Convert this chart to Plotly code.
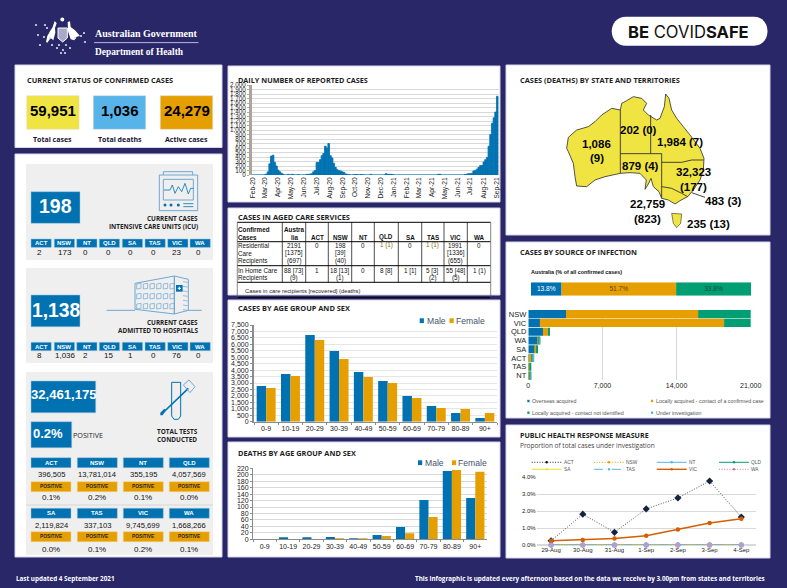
import pandas as pd
import numpy as np
import plotly.graph_objects as go

# ---------- data ----------
TOTALS = ["59,951", "1,036", "24,279"]
TOTAL_LABELS = ["Total cases", "Total deaths", "Active cases"]
STATES = ["ACT", "NSW", "NT", "QLD", "SA", "TAS", "VIC", "WA"]
ICU_TOTAL = "198"
ICU = ["2", "173", "0", "0", "0", "0", "23", "0"]
HOSP_TOTAL = "1,138"
HOSP = ["8", "1,036", "2", "15", "1", "0", "76", "0"]
TESTS_TOTAL = "32,461,175"
TESTS_POS = "0.2%"
TESTS = ["396,505", "13,781,014", "355,195", "4,057,569", "2,119,824", "337,103", "9,745,699", "1,668,266"]
TESTS_PCT = ["0.1%", "0.2%", "0.1%", "0.0%", "0.0%", "0.1%", "0.2%", "0.1%"]

DAILY_START = "2020-02-01"
DAILY_STEP_DAYS = 4
DAILY = [0, 0, 0, 0, 0, 0, 0, 5, 20, 70, 250, 420, 440, 280, 200, 110, 70, 40, 15, 0,
         0, 15, 0, 15, 10, 0, 0, 10, 0, 0, 0, 0, 15, 15, 20, 30, 70, 100, 280, 280,
         340, 430, 480, 640, 600, 700, 430, 380, 260, 170, 120, 100, 90, 70, 60, 25, 15, 10, 0, 0,
         10, 10, 10, 0, 10, 10, 0, 0, 0, 0, 15, 0, 0, 0, 0, 0, 0, 0, 0, 30,
         15, 15, 15, 10, 0, 0, 0, 0, 0, 0, 0, 0, 0, 0, 0, 0, 0, 0, 0, 0,
         0, 0, 0, 0, 0, 0, 0, 0, 0, 0, 15, 15, 0, 0, 0, 0, 0, 0, 0, 0,
         0, 0, 0, 0, 0, 0, 10, 20, 30, 30, 40, 90, 100, 130, 170, 210, 210, 290, 340, 390,
         640, 900, 1150, 1270, 1400, 1750]

AGED_HEAD = ["Confirmed<br>Cases", "Austra<br>lia", "ACT", "NSW", "NT", "QLD", "SA", "TAS", "VIC", "WA"]
AGED_RES = ["Residential<br>Care<br>Recipients", "2191<br>[1375]<br>(697)", "0", "198<br>[39]<br>(40)", "0", "1 (1)", "0", "1 (1)", "1991<br>[1336]<br>(655)", "0"]
AGED_HOME = ["In Home Care<br>Recipients", "88 [73]<br>(9)", "1", "18 [13]<br>(1)", "0", "8 [8]", "1 [1]", "5 [3]<br>(2)", "55 [48]<br>(5)", "1 (1)"]
AGED_NOTE = "Cases in care recipients [recovered] (deaths)"

AGES = ["0-9", "10-19", "20-29", "30-39", "40-49", "50-59", "60-69", "70-79", "80-89", "90+"]
CASES_M = [2770, 3700, 6720, 5480, 3850, 3155, 1990, 1215, 670, 285]
CASES_F = [2610, 3540, 6335, 4860, 3465, 3000, 1835, 1060, 980, 670]
DEATHS_M = [0, 4, 4, 7, 3, 13, 38, 122, 212, 128]
DEATHS_F = [0, 0, 0, 3, 3, 10, 19, 69, 215, 209]

MAP_LABELS = ["1,086", "(9)", "202 (0)", "1,984 (7)", "879 (4)", "32,323", "(177)", "483 (3)", "22,759", "(823)", "235 (13)"]

AUS_SHARE = [13.8, 51.7, 33.8]
SRC_STATES = ["NSW", "VIC", "QLD", "WA", "SA", "ACT", "TAS", "NT"]
SRC_NAMES = ["Overseas acquired", "Locally acquired - contact of a confirmed case",
             "Locally acquired - contact not identified", "Under investigation"]
SRC_OVER = [3560, 1100, 1386, 913, 630, 50, 60, 60]
SRC_LOCAL = [12474, 17388, 470, 60, 100, 310, 120, 110]
SRC_UNID = [16000, 4271, 190, 110, 190, 20, 55, 30]
SRC_INV = [289, 0, 0, 3, 0, 100, 0, 2]

PHR_DATES = ["29-Aug", "30-Aug", "31-Aug", "1-Sep", "2-Sep", "3-Sep", "4-Sep"]
PHR_ACT = [0.25, 1.82, 0.75, 2.13, 2.78, 3.78, 1.65]
PHR_NSW = [0, 0, 0, 0, 0, 0, 0]
PHR_NT = [0, 0, 0, 0, 0, 0, 0]
PHR_QLD = [0, 0, 0, 0, 0, 0, 0]
PHR_SA = [0, 0, 0, 0, 0, 0, 0]
PHR_TAS = [0, 0, 0, 0, 0, 0, 0]
PHR_VIC = [0.25, 0.3, 0.38, 0.55, 0.92, 1.3, 1.55]
PHR_WA = [0, 0, 0, 0, 0, 0, 0]

# ---------- helpers ----------
W, H = 787, 588
NAVY, BLUE, ORANGE, GREEN, SKY, YELLOW, VERM, PINK = "#2A2768", "#0072B2", "#E69F00", "#009E73", "#56B4E9", "#F0E442", "#D55E00", "#CC79A7"
ICON = "#6FA8D2"
DARK = "#1E1E1E"
UI = "Open Sans"
ARIAL = "Liberation Sans"
shapes, notes = [], []

def fx(x): return x / W
def fy(y): return 1 - y / H

def rect(x0, y0, x1, y1, fill, line=None, lw=1, layer="below"):
    shapes.append(dict(type="rect", xref="paper", yref="paper", x0=fx(x0), x1=fx(x1), y0=fy(y0), y1=fy(y1),
                       fillcolor=fill, line=dict(color=line or fill, width=lw if line else 0), layer=layer))

def circle(cx, cy, r, fill, line=None, lw=1, layer="above"):
    shapes.append(dict(type="circle", xref="paper", yref="paper", x0=fx(cx - r), x1=fx(cx + r), y0=fy(cy - r), y1=fy(cy + r),
                       fillcolor=fill, line=dict(color=line or fill, width=lw if line else 0), layer=layer))

def poly(points, fill=None, line=None, lw=1, close=True, dash=None, layer="above", ox=0, oy=0, k=1.0):
    d = "M" + " L".join(f"{fx(ox + p[0] * k):.5f},{fy(oy + p[1] * k):.5f}" for p in points) + (" Z" if close else "")
    ln = dict(color=line or "rgba(0,0,0,0)", width=lw if line else 0)
    if dash: ln["dash"] = dash
    shapes.append(dict(type="path", xref="paper", yref="paper", path=d, fillcolor=fill or "rgba(0,0,0,0)", line=ln, layer=layer))

def text(x, y, s, size, color=DARK, anchor="left", family=ARIAL, bold=False):
    notes.append(dict(xref="paper", yref="paper", x=fx(x), y=fy(y), text=f"<b>{s}</b>" if bold else s, showarrow=False,
                      xanchor=anchor, yanchor="middle", borderpad=0, borderwidth=0, align=anchor,
                      font=dict(size=size, color=color, family=family)))

def dom_x(a, b): return [a / W, b / W]
def dom_y(top, bottom): return [1 - bottom / H, 1 - top / H]

# ---------- page furniture ----------
for p in [(15, 65, 222, 147.5), (15, 154, 222, 557), (228, 66, 500, 202), (228, 208, 500, 295), (228, 300, 500, 437),
          (228, 442, 500, 557), (506, 65, 770, 235), (506, 242, 770, 418), (506, 425, 770, 558)]:
    rect(*p, "#FFFFFF", "#D5D5EA", 1)

# header
text(95, 33.5, "Australian Government", 10, "#FFFFFF", family="Liberation Serif", bold=True)
poly([(94, 42.6), (198.5, 42.6)], line="#B9B8DC", lw=1, close=False)
text(95, 51.7, "Department of Health", 9.4, "#FFFFFF", family="Liberation Serif", bold=True)
poly([(48, 90), (52, 72), (60, 58), (68, 45), (74, 27), (80, 34), (75, 48), (76, 62), (70, 85), (62, 78), (52, 92)], fill="#FFFFFF", ox=30, oy=12, k=1/3)
poly([(113, 30), (120, 28), (122, 45), (135, 55), (150, 72), (140, 74), (133, 85), (122, 82), (114, 58)], fill="#FFFFFF", ox=30, oy=12, k=1/3)
poly([(84, 48), (112, 48), (112, 78), (98, 90), (84, 78)], fill="#A9A8C9", line="#FFFFFF", lw=1, ox=30, oy=12, k=1/3)
circle(62.3, 19.5, 2, "#FFFFFF")
for a, b in [(40, 45), (36, 25), (52, 45), (45, 25), (59, 45), (47, 28), (66, 45), (85, 42), (50, 38), (75, 38), (44, 37), (81, 36), (61, 53), (65, 53), (63, 50), (57, 48), (70, 48), (38, 35), (84, 33)]:
    circle(a, b, 1.1, "#DADAEB")

pill = (f"M{fx(626):.5f},{fy(16.7):.5f} L{fx(754):.5f},{fy(16.7):.5f} "
        f"C{fx(772):.5f},{fy(16.7):.5f} {fx(772):.5f},{fy(45.7):.5f} {fx(754):.5f},{fy(45.7):.5f} "
        f"L{fx(626):.5f},{fy(45.7):.5f} C{fx(607):.5f},{fy(45.7):.5f} {fx(607):.5f},{fy(16.7):.5f} {fx(626):.5f},{fy(16.7):.5f} Z")
shapes.append(dict(type="path", xref="paper", yref="paper", path=pill, fillcolor="#FFFFFF", line=dict(width=0), layer="below"))
text(688.5, 31.7, "<b>BE</b> COVID<b>SAFE</b>", 16.6, "#111111", anchor="center", family="Inter")

# footer
text(16, 578, "Last updated 4 September 2021", 6.3, "#FFFFFF", family=UI, bold=True)
text(765, 578, "This infographic is updated every afternoon based on the data we receive by 3.00pm from states and territories", 6.3, "#FFFFFF", anchor="right", family=UI, bold=True)

# current status
text(26.5, 80, "CURRENT STATUS OF CONFIRMED CASES", 7.4, family=UI, bold=True)
for i, (x0, col) in enumerate([(26.7, YELLOW), (93.3, SKY), (160.3, ORANGE)]):
    rect(x0, 95.7, x0 + 52.4, 129.3, col, "#DADADA", 0.5)
    text(x0 + 26.2, 110.7, TOTALS[i], 15, "#000000", anchor="center", bold=True)
    text(x0 + 26.2, 139, TOTAL_LABELS[i], 7, "#141432", anchor="center", family=UI, bold=True)

# ICU + hospital panels
rect(26, 164, 213, 260, "#EFEFEF")
rect(26, 268, 213, 363, "#EFEFEF")
rect(26, 372, 213, 555, "#EFEFEF")
HX = [31, 54.3, 76.7, 99.3, 122.3, 145, 167.7, 190]
VX = [39.5, 65, 85, 108, 130.5, 153.5, 176, 199]
for (hy, vy, vals) in [(239, 252.3, ICU), (342.3, 355.7, HOSP)]:
    for i, st in enumerate(STATES):
        rect(HX[i], hy, HX[i] + 20.3, hy + 8.4, BLUE, "#9CC4DF", 0.5)
        text(HX[i] + 10.1, hy + 4.2, st, 6, "#FFFFFF", anchor="center", bold=True)
        text(VX[i], vy, vals[i], 8, "#111111", anchor="center")
rect(31, 191.7, 80, 223.3, BLUE, "#9CC4DF", 0.5)
text(55.5, 205.5, ICU_TOTAL, 19.5, "#FFFFFF", anchor="center", bold=True)
rect(31, 295, 80, 326.7, BLUE, "#9CC4DF", 0.5)
text(56, 310, HOSP_TOTAL, 19.3, "#FFFFFF", anchor="center", bold=True)
text(197.7, 218.3, "CURRENT CASES", 6.4, anchor="right", family=UI, bold=True)
text(197.7, 227, "INTENSIVE CARE UNITS (ICU)", 6.4, anchor="right", family=UI, bold=True)
text(197.7, 322.3, "CURRENT CASES", 6.4, anchor="right", family=UI, bold=True)
text(197.7, 330.3, "ADMITTED TO HOSPITALS", 6.4, anchor="right", family=UI, bold=True)

# monitor icon
OX, OY, K = 15, 150, 1/3
poly([(433, 75), (548, 75), (548, 182), (433, 182)], line=ICON, lw=1, ox=OX, oy=OY, k=K)
poly([(445, 75), (445, 65), (533, 65), (533, 75)], line=ICON, lw=1, close=False, ox=OX, oy=OY, k=K)
poly([(445, 88), (535, 88), (535, 150), (445, 150)], line=ICON, lw=1, ox=OX, oy=OY, k=K)
poly([(447, 120), (465, 120), (472, 105), (480, 130), (490, 110), (500, 125), (510, 100), (520, 132), (527, 115), (535, 115)], line=BLUE, lw=0.8, close=False, ox=OX, oy=OY, k=K)
for cx in [450, 468, 490]:
    circle(OX + cx * K, OY + 165 * K, 1.5, BLUE)
for ly in [161, 170]:
    poly([(505, ly), (535, ly)], line=BLUE, lw=0.8, close=False, ox=OX, oy=OY, k=K)
# hospital icon
poly([(275, 481), (360, 481)], line=ICON, lw=1, close=False, ox=OX, oy=OY, k=K)
poly([(520, 481), (560, 481)], line=ICON, lw=1, close=False, ox=OX, oy=OY, k=K)
poly([(360, 400), (478, 378), (478, 492), (360, 478)], line=ICON, lw=1, ox=OX, oy=OY, k=K)
poly([(478, 378), (520, 388), (520, 481), (478, 492)], line=ICON, lw=1, ox=OX, oy=OY, k=K)
for wx in range(365, 470, 20):
    for wy in [402, 432, 462]:
        poly([(wx, wy), (wx + 13, wy - 2), (wx + 13, wy + 13), (wx, wy + 15)], line=ICON, lw=0.7, ox=OX, oy=OY, k=K)
for wy in range(395, 480, 14):
    poly([(504, wy), (518, wy + 2)], line=ICON, lw=0.7, close=False, ox=OX, oy=OY, k=K)
poly([(483, 405), (503, 405), (503, 425), (483, 425)], fill=BLUE, ox=OX, oy=OY, k=K)
poly([(488, 415), (498, 415)], line="#FFFFFF", lw=1, close=False, ox=OX, oy=OY, k=K)
poly([(493, 410), (493, 420)], line="#FFFFFF", lw=1, close=False, ox=OX, oy=OY, k=K)
# tube icon
OX2, OY2 = 15, 370
poly([(470, 37), (497, 37), (497, 138), (490, 148), (477, 148), (470, 138), (470, 37)], line=BLUE, lw=1, close=False, ox=OX2, oy=OY2, k=K)
poly([(440, 132), (520, 55)], line=BLUE, lw=1.6, close=False, ox=OX2, oy=OY2, k=K)
poly([(436, 128), (448, 116), (453, 120), (443, 136), (436, 136)], fill=BLUE, ox=OX2, oy=OY2, k=K)
poly([(505, 45), (522, 30), (540, 50), (525, 68)], line=ICON, lw=1, ox=OX2, oy=OY2, k=K)

# tests
rect(31, 381, 95.7, 412.7, BLUE, "#9CC4DF", 0.5)
text(31, 394, TESTS_TOTAL, 13.1, "#FFFFFF", bold=True)
rect(31, 421.7, 71.7, 447.7, BLUE, "#9CC4DF", 0.5)
text(33, 433, TESTS_POS, 13, "#FFFFFF", bold=True)
text(73.3, 435.3, "POSITIVE", 7.2, family=UI, bold=False)
text(177.3, 431, "TOTAL TESTS", 6.4, anchor="center", family=UI, bold=True)
text(177.3, 439.3, "CONDUCTED", 6.4, anchor="center", family=UI, bold=True)
CX = [31, 77.3, 123.3, 169.3]
rect(26, 504, 213, 506, "#E3E3E3")
for row, (hy, vy, py, ty, first) in enumerate([(457.7, 474, 481.7, 497.7, 0), (508.3, 525, 531.7, 549.7, 4)]):
    for c in range(4):
        i = first + c
        rect(CX[c], hy, CX[c] + 40, hy + 10, BLUE, "#9CC4DF", 0.5)
        text(CX[c] + 20, hy + 5, STATES[i], 6, "#FFFFFF", anchor="center", bold=True)
        text(CX[c] + 20, vy, TESTS[i], 7.6, "#111111", anchor="center")
        rect(CX[c], py, CX[c] + 40, py + 10, ORANGE, "#F2D58C", 0.5)
        text(CX[c] + 20, py + 5, "POSITIVE", 4.8, "#222222", anchor="center", bold=True)
        text(CX[c] + 20, ty, TESTS_PCT[i], 8, "#111111", anchor="center")

# panel titles
text(238, 80, "DAILY NUMBER OF REPORTED CASES", 7.25, family=UI, bold=True)
text(238, 216.7, "CASES IN AGED CARE SERVICES", 7.5, family=UI, bold=True)
text(238, 308.3, "CASES BY AGE GROUP AND SEX", 7.4, family=UI, bold=True)
text(238, 452.7, "DEATHS BY AGE GROUP AND SEX", 7.35, family=UI, bold=True)
text(520, 80, "CASES (DEATHS) BY STATE AND TERRITORIES", 7.4, family=UI, bold=True)
text(520, 251.7, "CASES BY SOURCE OF INFECTION", 7.3, family=UI, bold=True)
text(520, 435, "PUBLIC HEALTH RESPONSE MEASURE", 7.1, family=UI, bold=True)
text(520, 445.3, "Proportion of total cases under investigation", 6.5, "#444444", family=UI)

# aged care table
COLS = [237.3, 282.3, 305.7, 328.3, 351.7, 374.3, 398.3, 421.7, 444, 467.3, 490.7]
ROWS = [222.3, 241.7, 265.7, 282.3]
for y in ROWS + [297.7]:
    poly([(COLS[0], y), (COLS[-1], y)], line="#000000", lw=1, close=False)
for i, x in enumerate(COLS):
    poly([(x, ROWS[0]), (x, 297.7 if i in (0, 10) else ROWS[-1])], line="#000000" if 0 < i < 10 else "#555555", lw=0.7, close=False)
GOLD = "#8A6D12"
def cell_text(rowlist, y0, lh):
    for j, cell in enumerate(rowlist):
        lines = cell.split("<br>")
        for k, ln in enumerate(lines):
            cx = COLS[j] + 1 if j == 0 else (COLS[j] + COLS[j + 1]) / 2
            col = GOLD if ln == "1 (1)" and j in (5, 7) and y0 < 250 else "#111111"
            text(cx, y0 + k * lh, ln, 6.3, col, anchor="left" if j == 0 else "center")
for j, cell in enumerate(AGED_HEAD):
    lines = cell.split("<br>")
    cx = COLS[j] + 1 if j == 0 else (COLS[j] + COLS[j + 1]) / 2
    ys = [229, 237.3] if len(lines) == 2 else [237.3]
    for yy, ln in zip(ys, lines):
        text(cx, yy, ln, 6.3, "#111111", anchor="left" if j == 0 else "center", bold=True)
cell_text(AGED_RES, 245, 8)
cell_text(AGED_HOME, 270.7, 7.7)
text(245, 290.7, AGED_NOTE, 5.8, "#222222")

# manual legends
for (mx, fx_, yy, sz) in [(421.7, 451.5, 320.7, 8.6), (420, 454, 462.7, 8.6)]:
    rect(mx - 2, yy - 2.4, mx + 2.2, yy + 2.4, BLUE, layer="above")
    text(mx + 5, yy, "Male", sz, "#44546A")
    rect(fx_ - 2, yy - 2.4, fx_ + 2.2, yy + 2.4, ORANGE, layer="above")
    text(fx_ + 4.5, yy, "Female", sz, "#44546A")

# map
MX, MY = 505, 60
AUS = [(190, 232), (215, 210), (250, 200), (270, 185), (290, 165), (320, 145), (346, 150), (350, 130), (365, 122), (385, 110),
       (410, 115), (425, 130), (415, 150), (430, 165), (455, 180), (465, 175), (478, 140), (482, 102), (492, 115), (500, 150),
       (515, 175), (535, 200), (555, 225), (585, 265), (597, 295), (595, 330), (585, 360), (565, 390), (548, 410), (525, 422),
       (510, 432), (490, 420), (470, 415), (462, 395), (445, 380), (438, 355), (430, 372), (420, 388), (424, 360), (405, 340),
       (375, 338), (346, 340), (300, 350), (270, 360), (245, 380), (215, 378), (210, 350), (205, 310), (190, 275), (185, 265)]
poly(AUS, fill=YELLOW, line="#2B2B2B", lw=0.8, ox=MX, oy=MY, k=K, layer="below")
poly([(500, 460), (530, 462), (527, 490), (515, 503), (505, 490)], fill=YELLOW, line="#2B2B2B", lw=0.6, ox=MX, oy=MY, k=K, layer="below")
for seg in [[(346, 150), (346, 340)], [(346, 281), (470, 281)], [(437, 165), (437, 281)], [(470, 281), (470, 415)],
            [(470, 307), (530, 307), (560, 300), (596, 300)], [(470, 380), (500, 385), (530, 400), (548, 410)], [(560, 398), (600, 412)]]:
    poly(seg, line="#333333", lw=0.9, close=False, ox=MX, oy=MY, k=K, layer="below")
for lab, (ax, ay) in zip(MAP_LABELS, [(275, 252), (275, 295), (400, 210), (525, 245), (407, 318), (566, 335), (566, 380), (654, 423), (427, 433), (427, 477), (610, 492)]):
    text(MX + ax * K, MY + ay * K, lab, 11.5, "#050505", anchor="center", bold=True)

# source panel labels
text(531, 272.3, "Australia (% of all confirmed cases)", 5.4, "#111111", bold=True)
for (mx, lx, yy, col, nm) in [(528.3, 531.7, 401, BLUE, SRC_NAMES[0]), (652, 656, 401, ORANGE, SRC_NAMES[1]),
                              (528.3, 531.7, 412.7, GREEN, SRC_NAMES[2]), (652, 656, 412.7, SKY, SRC_NAMES[3])]:
    rect(mx - 1, yy - 1.2, mx + 1.2, yy + 1.2, col, layer="above")
    text(lx, yy, nm, 5.3, "#555555")

# ---------- charts ----------
fig = go.Figure()
daily_x = pd.date_range(DAILY_START, periods=len(DAILY), freq=f"{DAILY_STEP_DAYS}D")
fig.add_trace(go.Bar(x=daily_x, y=DAILY, xaxis="x", yaxis="y", marker=dict(color=BLUE, line=dict(width=0.8, color=BLUE)),
                     width=DAILY_STEP_DAYS * 86400000, name="Daily cases"))
for vals, col, nm, xa, ya in [(CASES_M, BLUE, "Male", "x2", "y2"), (CASES_F, ORANGE, "Female", "x2", "y2"),
                              (DEATHS_M, BLUE, "Male", "x3", "y3"), (DEATHS_F, ORANGE, "Female", "x3", "y3")]:
    fig.add_trace(go.Bar(x=AGES, y=vals, xaxis=xa, yaxis=ya, marker=dict(color=col, line=dict(width=0)), name=nm))
cum = 0
for val, col, tc, nm in zip(AUS_SHARE, [BLUE, ORANGE, GREEN], ["#FFFFFF", "#5A4310", "#0A4B38"], SRC_NAMES):
    fig.add_trace(go.Bar(y=["AUS"], x=[val], base=[cum], orientation="h", xaxis="x4", yaxis="y4", width=1, offset=-0.5,
                         marker=dict(color=col, line=dict(width=0)), name=nm, text=[f"{val}%"], textposition="inside",
                         insidetextanchor="middle", textangle=0, textfont=dict(size=6.6, color=tc), constraintext="none"))
    cum += val
base = np.zeros(len(SRC_STATES))
for vals, col, nm in zip([SRC_OVER, SRC_LOCAL, SRC_UNID, SRC_INV], [BLUE, ORANGE, GREEN, SKY], SRC_NAMES):
    fig.add_trace(go.Bar(y=SRC_STATES, x=vals, base=base.tolist(), orientation="h", xaxis="x5", yaxis="y5", width=0.92, offset=-0.46,
                         marker=dict(color=col, line=dict(width=0)), name=nm))
    base = base + np.array(vals)
DOT = "1px,1.6px"
PHR = [("ACT", PHR_ACT, "#444444", DOT, 0.9, "diamond", 5.5), ("NSW", PHR_NSW, ORANGE, DOT, 1, "cross", 4),
       ("NT", PHR_NT, SKY, "solid", 1, "circle", 5), ("QLD", PHR_QLD, GREEN, "solid", 1, "triangle-up", 4),
       ("SA", PHR_SA, YELLOW, "solid", 1.2, "triangle-down", 4), ("TAS", PHR_TAS, SKY, "dash", 1, "diamond", 4.5),
       ("VIC", PHR_VIC, VERM, "solid", 1.4, "circle", 4.5), ("WA", PHR_WA, PINK, DOT, 1, "square", 4.5)]
MARK = {"ACT": "#14233F", "WA": "#BC9AD0"}
for nm, vals, col, dash, lw, sym, ms in PHR:
    fig.add_trace(go.Scatter(x=PHR_DATES, y=vals, mode="lines+markers", xaxis="x6", yaxis="y6", name=nm, cliponaxis=False,
                             line=dict(color=col, dash=dash, width=lw), marker=dict(color=MARK.get(nm, col), symbol=sym, size=ms)))
LEG_POS = [(531.7, 462.3), (594, 462.3), (656.7, 462.3), (719, 462.3), (531.7, 469.3), (594, 469.3), (656.7, 469.3), (719, 469.3)]
for (nm, vals, col, dash, lw, sym, ms), (lx, ly) in zip(PHR, LEG_POS):
    poly([(lx, ly), (lx + 30, ly)], line="#111111" if nm == "ACT" else col, lw=lw, close=False, dash=dash)
    circle(lx + 15, ly, 1.2, "#111111" if nm == "ACT" else col)
    text(lx + 32.3, ly, nm, 4.8, "#555555")

GRID = "#D9D9D9"
AXG = "#8C8C8C"
tick7 = dict(size=7, color="#222222", family=ARIAL)
layout_axes = dict(
    xaxis=dict(domain=dom_x(252, 498.6), anchor="y", type="date", range=["2020-01-30", "2021-09-06"], tick0=DAILY_START, dtick="M1",
               tickformat="%b-%y", tickangle=-90, tickfont=dict(size=6.6, color="#222222"), showgrid=False, ticks="", showline=False),
    yaxis=dict(domain=dom_y(85, 175), anchor="x", range=[0, 2000], dtick=100, tickformat=",d", tickfont=dict(size=6.3, color="#222222"),
               gridcolor=GRID, gridwidth=1, showline=True, linecolor="#A6A6A6", linewidth=3, ticks="outside", ticklen=2, tickcolor="#C9B040", zeroline=False),
    xaxis2=dict(domain=dom_x(254, 497), anchor="y2", tickfont=tick7, showgrid=False, showline=True, linecolor=AXG, linewidth=1, ticks="outside", ticklen=2,
                tickcolor=AXG, tickson="boundaries", tickangle=0),
    yaxis2=dict(domain=dom_y(325, 421.7), anchor="x2", range=[0, 7500], dtick=500, tickformat=",d", tickfont=tick7, gridcolor="#E6E6E6",
                showline=True, linecolor=AXG, linewidth=2, ticks="outside", ticklen=2, tickcolor=AXG, zeroline=False),
    xaxis3=dict(domain=dom_x(253, 487), anchor="y3", tickfont=tick7, showgrid=False, showline=True, linecolor=AXG, linewidth=1, ticks="outside", ticklen=2,
                tickcolor=AXG, tickson="boundaries", tickangle=0),
    yaxis3=dict(domain=dom_y(468.3, 539.3), anchor="x3", range=[0, 220], dtick=20, tickfont=tick7, gridcolor=GRID,
                showline=True, linecolor=AXG, linewidth=1, ticks="outside", ticklen=2, tickcolor=AXG, zeroline=False),
    xaxis4=dict(domain=dom_x(531, 751), anchor="y4", range=[0, sum(AUS_SHARE)], visible=False),
    yaxis4=dict(domain=dom_y(282.3, 295.7), anchor="x4", visible=False, type="category"),
    xaxis5=dict(domain=dom_x(528.3, 750.7), anchor="y5", range=[0, 21000], tickvals=[0, 7000, 14000, 21000], tickformat=",d", tickfont=tick7,
                gridcolor=GRID, gridwidth=1, zeroline=False, showline=False, ticks=""),
    yaxis5=dict(domain=dom_y(309.7, 380), anchor="x5", range=[7.5, -0.5], type="category", tickmode="array", tickvals=SRC_STATES, ticktext=SRC_STATES,
                tickfont=dict(size=7.5, color="#222222"), showgrid=False, ticks="", showline=False, ticklabelstandoff=1),
    xaxis6=dict(domain=dom_x(536.7, 755.7), anchor="y6", tickfont=dict(size=6, color="#222222"), showgrid=False, showline=False, ticks="", tickangle=0),
    yaxis6=dict(domain=dom_y(477.3, 545), anchor="x6", range=[0, 4], dtick=1, tickformat=".1f", ticksuffix="%", tickfont=dict(size=6, color="#222222"),
                gridcolor=GRID, zeroline=True, zerolinecolor=GRID, showline=False, ticks=""),
)
fig.update_layout(width=W, height=H, margin=dict(l=0, r=0, t=0, b=0, pad=0, autoexpand=False), autosize=False, paper_bgcolor=NAVY, plot_bgcolor="rgba(0,0,0,0)",
                  showlegend=False, barmode="group", bargap=0.22, bargroupgap=0, font=dict(family=ARIAL, color=DARK),
                  shapes=shapes, annotations=notes, **layout_axes)
fig.write_html("out.html", config={"displayModeBar": False, "responsive": False},
               post_script="document.documentElement.style.margin='0';document.body.style.margin='0';document.body.style.overflow='hidden';")
